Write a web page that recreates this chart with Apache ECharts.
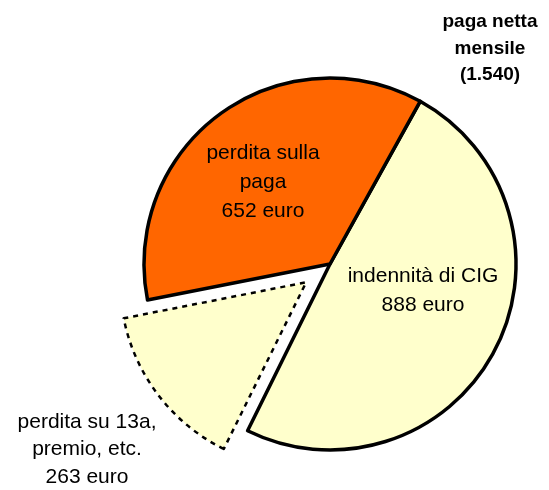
<!DOCTYPE html>
<html>
<head>
<meta charset="utf-8">
<script src="https://cdn.jsdelivr.net/npm/echarts@6/dist/echarts.min.js"></script>
<style>
  html, body { margin: 0; padding: 0; background: #fff; }
  #main { width: 549px; height: 490px; }
</style>
</head>
<body>
<div id="main"></div>
<script>
// slices, in clockwise order starting from the upper-right edge
var sliceNames = ['indennità di CIG', 'perdita su 13a,\npremio, etc.', 'perdita sulla\npaga']
var sliceValues = [888, 263, 652]
var sliceColors = ['#FFFFCC', '#FFFFCC', '#FF6600']
var titleText = 'paga netta\nmensile\n(1.540)'

// label centres for the two slices that carry their label inside
var labelPos = [[423, 291], null, [263, 182]]

var chart = echarts.init(document.getElementById('main'), null, { renderer: 'canvas' })

var labelText = function (i) {
  return sliceNames[i] + '\n' + sliceValues[i] + ' euro'
}

var data = sliceNames.map(function (name, i) {
  var style = {
    color: sliceColors[i],
    borderColor: '#000',
    borderWidth: 3.5
  }
  if (i === 1) {
    // the detached slice has a thin dashed outline
    style = { color: sliceColors[i], borderColor: '#000', borderWidth: 2.5, borderType: [5, 5] }
  }
  return {
    name: name,
    value: sliceValues[i],
    selected: i === 1,
    itemStyle: style,
    select: { itemStyle: style, label: { show: false } },
    label: { show: i !== 1 }
  }
})

var option = {
  backgroundColor: '#ffffff',
  animation: false,
  title: [{
    text: titleText,
    left: 485,
    top: 4,
    textAlign: 'center',
    textStyle: {
      fontFamily: 'Liberation Sans',
      fontSize: 19,
      fontWeight: 'bold',
      color: '#000',
      lineHeight: 26.5
    }
  }, {
    // label of the detached slice, sitting outside the pie
    text: labelText(1),
    left: 82,
    top: 403,
    textAlign: 'center',
    textStyle: {
      fontFamily: 'Liberation Sans',
      fontSize: 21,
      lineHeight: 27.5,
      color: '#000',
      fontWeight: 'normal'
    }
  }],
  series: [{
    type: 'pie',
    center: [330, 264],
    radius: [0, 186],
    startAngle: 61,
    clockwise: true,
    selectedMode: 'single',
    selectedOffset: 30,
    avoidLabelOverlap: false,
    emphasis: { disabled: true },
    label: {
      show: true,
      position: 'inside',
      fontFamily: 'Liberation Sans',
      fontSize: 21,
      lineHeight: 29,
      color: '#000',
      formatter: function (p) {
        return labelText(p.dataIndex)
      }
    },
    labelLine: { show: false },
    labelLayout: function (p) {
      var pos = labelPos[p.dataIndex]
      if (!pos) return {}
      return { x: pos[0], y: pos[1], align: 'center', verticalAlign: 'middle' }
    },
    data: data
  }]
}

chart.setOption(option)
</script>
</body>
</html>
